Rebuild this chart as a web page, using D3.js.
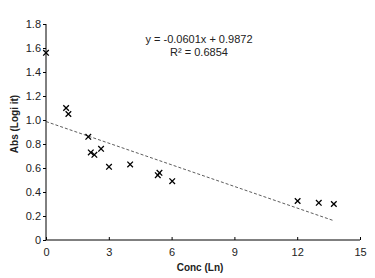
<!DOCTYPE html>
<html><head><meta charset="utf-8">
<script src="https://cdn.jsdelivr.net/npm/d3@7"></script>
<style>body{margin:0;background:#fff}svg{display:block}</style>
</head><body>
<svg id="c" width="375" height="278"></svg>
<script>
const concLn = [0.0, 0.96, 1.07, 2.02, 2.14, 2.31, 2.63, 3.01, 4.02, 5.34, 5.42, 6.03, 12.02, 13.03, 13.75];
const absLogit = [1.56, 1.10, 1.05, 0.86, 0.73, 0.71, 0.76, 0.61, 0.63, 0.54, 0.56, 0.49, 0.325, 0.31, 0.30];
const xTicks = [0, 3, 6, 9, 12, 15];
const yTicks = [0, 0.2, 0.4, 0.6, 0.8, 1.0, 1.2, 1.4, 1.6, 1.8];
const slope = -0.0601, intercept = 0.9872;
const eqText = "y = -0.0601x + 0.9872";
const r2Text = "R\u00B2 = 0.6854";

const svg = d3.select("#c");
const font = "Liberation Sans, Arial, sans-serif";
const x = d3.scaleLinear().domain([0, 15]).range([46, 360]);
const y = d3.scaleLinear().domain([0, 1.8]).range([240, 24]);

// y axis
const ya = svg.append("g").attr("transform", "translate(46,0)")
  .call(d3.axisLeft(y).tickValues(yTicks).tickSize(3).tickPadding(2)
    .tickFormat(d => d === 0 ? "0" : d3.format(".1f")(d)));
ya.select(".domain").attr("stroke", "#000").attr("d", "M0,24V240");
ya.selectAll("line").attr("stroke", "#000");
ya.selectAll("text").attr("font-family", font).attr("font-size", 11).attr("fill", "#222");

// x axis
const xa = svg.append("g").attr("transform", "translate(0,240)")
  .call(d3.axisBottom(x).tickValues(xTicks).tickSize(-3).tickPadding(8).tickFormat(d3.format("d")));
xa.select(".domain").attr("stroke", "#000").attr("d", "M46,0H360");
xa.selectAll("line").attr("stroke", "#000");
xa.selectAll("text").attr("font-family", font).attr("font-size", 11).attr("fill", "#222");

// trendline
const xMax = d3.max(concLn);
svg.append("line")
  .attr("x1", x(0)).attr("y1", y(intercept))
  .attr("x2", x(xMax)).attr("y2", y(intercept + slope * xMax))
  .attr("stroke", "#333").attr("stroke-width", 0.8).attr("stroke-dasharray", "3,2");

// markers
const s = 2.8;
svg.append("g").selectAll("path").data(concLn).join("path")
  .attr("d", (d, i) => {
    const cx = x(d), cy = y(absLogit[i]);
    return `M${cx - s},${cy - s}L${cx + s},${cy + s}M${cx - s},${cy + s}L${cx + s},${cy - s}`;
  })
  .attr("stroke", "#000").attr("stroke-width", 1.3);

// equation
svg.append("text").attr("x", 199).attr("y", 43).attr("text-anchor", "middle")
  .attr("font-family", font).attr("font-size", 11).attr("fill", "#222").text(eqText);
svg.append("text").attr("x", 199).attr("y", 56).attr("text-anchor", "middle")
  .attr("font-family", font).attr("font-size", 11).attr("fill", "#222").text(r2Text);

// axis titles
svg.append("text").attr("x", 200).attr("y", 271).attr("text-anchor", "middle")
  .attr("font-family", font).attr("font-size", 10).attr("font-weight", "bold").attr("fill", "#222").text("Conc (Ln)");
svg.append("text").attr("transform", "translate(18,124) rotate(-90)").attr("text-anchor", "middle")
  .attr("font-family", font).attr("font-size", 10).attr("font-weight", "bold").attr("fill", "#222").text("Abs (Logi it)");
</script>
</body></html>
